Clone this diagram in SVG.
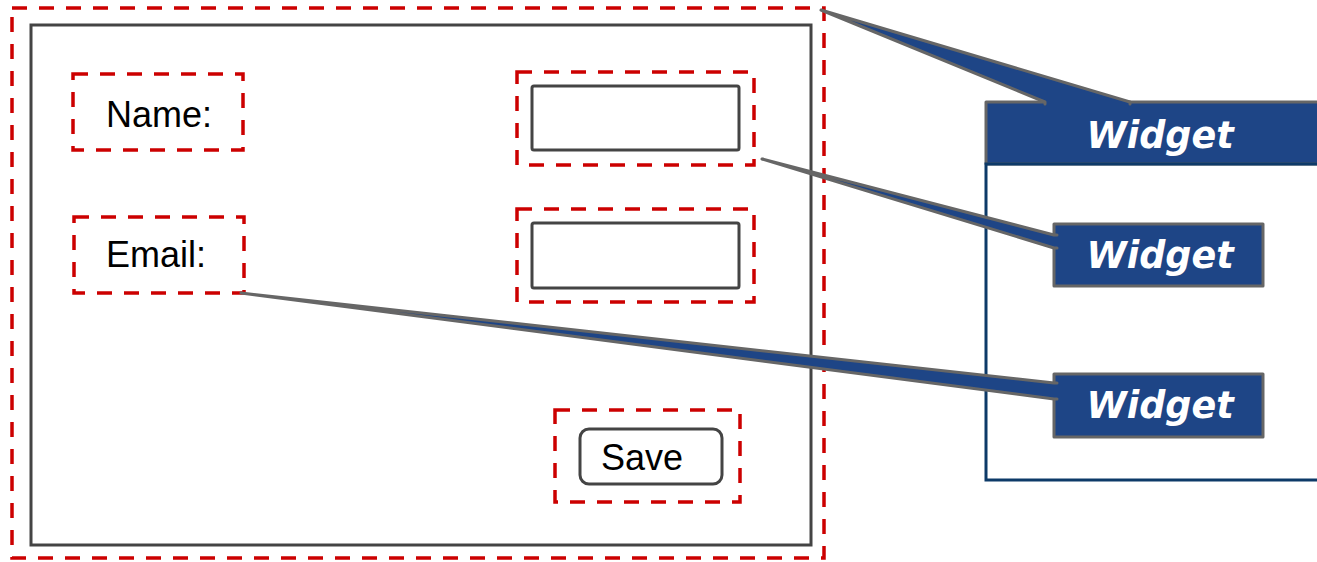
<svg xmlns="http://www.w3.org/2000/svg" width="1317" height="562" viewBox="0 0 1317 562">
<style>
.dash{fill:none;stroke:#cc0000;stroke-width:3.5;stroke-dasharray:15 12}
.frame{fill:#fff;stroke:#444;stroke-width:3}
.lbl{font-family:"Liberation Sans",Arial,sans-serif;font-size:36px;fill:#000}
.co{fill:#1e4586;stroke:#666;stroke-width:3;stroke-linejoin:round}
.cot{font-family:"DejaVu Sans",sans-serif;font-size:36.5px;font-weight:bold;font-style:italic;fill:#fff;text-anchor:middle}
.ptr{fill:#1e4586;stroke:#666;stroke-width:3;stroke-linejoin:round;stroke-linecap:round}
</style>
<rect width="1317" height="562" fill="#fff"/>
<g id="form">
<rect class="frame" x="31" y="25" width="780" height="520"/>
<rect class="dash" x="12" y="8" width="812" height="550"/>
</g>
<g id="name-label">
<rect class="dash" x="73" y="74" width="170" height="76"/>
<text class="lbl" x="159" y="127" text-anchor="middle">Name:</text>
</g>
<g id="email-label">
<rect class="dash" x="74" y="217" width="170" height="76"/>
<text class="lbl" x="156" y="267" text-anchor="middle">Email:</text>
</g>
<g id="name-field">
<rect class="dash" x="517" y="72" width="237" height="93"/>
<rect class="frame" x="532" y="86" width="207" height="64" rx="2"/>
</g>
<g id="email-field">
<rect class="dash" x="517" y="209" width="237" height="93"/>
<rect class="frame" x="532" y="223" width="207" height="65" rx="2"/>
</g>
<g id="save-button">
<rect class="dash" x="555" y="410" width="185" height="92"/>
<rect class="frame" x="580" y="429" width="142" height="55" rx="9"/>
<text class="lbl" x="601" y="470">Save</text>
</g>
<g id="widget-panel">
<rect class="co" x="986" y="102" width="360" height="62"/>
<rect x="986" y="164" width="360" height="316" fill="none" stroke="#0d3a68" stroke-width="3"/>
<text class="cot" x="1160" y="148">Widget</text>
</g>
<g id="widget-field">
<rect class="co" x="1054" y="224" width="209" height="62"/>
<text class="cot" x="1160" y="268">Widget</text>
</g>
<g id="widget-email">
<rect class="co" x="1054" y="374" width="209" height="63"/>
<text class="cot" x="1160" y="418">Widget</text>
</g>
<g id="connectors">
<path class="ptr" d="M1045 104 L1045 102 L821 10 L1130 102 L1130 104"/>
<path class="ptr" d="M1057 235 L1054 235 L762 159 L1054 248 L1057 248"/>
<path class="ptr" d="M1057 383 L1054 383 L241 293 L1054 399 L1057 399"/>
</g>
</svg>
